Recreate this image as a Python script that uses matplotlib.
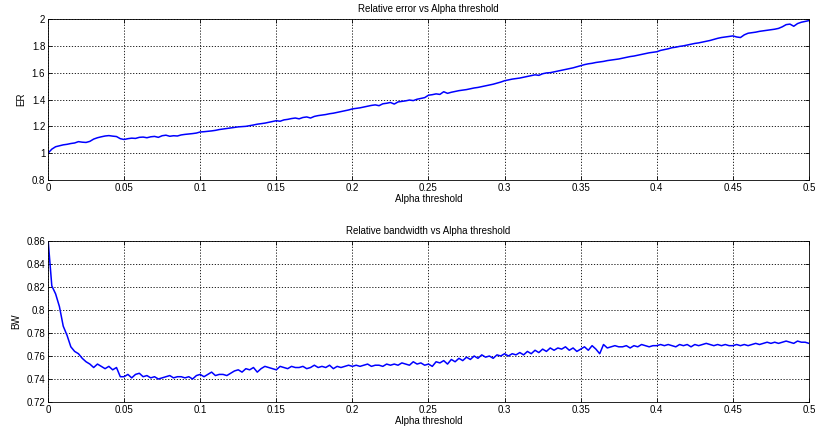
import numpy as np
import matplotlib.pyplot as plt

plt.rcParams['font.family'] = ['Liberation Sans', 'DejaVu Sans']
plt.rcParams['font.size'] = 7

# alpha threshold sweep, step 0.0025
alpha = np.arange(201) * 0.0025

er = [
    1.000, 1.030, 1.048, 1.055, 1.062, 1.066, 1.072, 1.076, 1.086, 1.082,
    1.080, 1.088, 1.105, 1.115, 1.122, 1.128, 1.131, 1.127, 1.124, 1.108,
    1.102, 1.108, 1.112, 1.110, 1.118, 1.120, 1.115, 1.122, 1.125, 1.118,
    1.130, 1.134, 1.126, 1.130, 1.128, 1.136, 1.140, 1.143, 1.146, 1.150,
    1.158, 1.160, 1.163, 1.166, 1.170, 1.176, 1.180, 1.184, 1.188, 1.192,
    1.196, 1.198, 1.200, 1.205, 1.210, 1.216, 1.220, 1.224, 1.230, 1.236,
    1.242, 1.238, 1.248, 1.252, 1.258, 1.262, 1.256, 1.266, 1.270, 1.262,
    1.274, 1.280, 1.284, 1.288, 1.294, 1.298, 1.304, 1.310, 1.316, 1.322,
    1.330, 1.334, 1.338, 1.344, 1.350, 1.356, 1.360, 1.354, 1.368, 1.372,
    1.378, 1.366, 1.382, 1.386, 1.390, 1.396, 1.392, 1.402, 1.408, 1.414,
    1.432, 1.436, 1.442, 1.438, 1.458, 1.446, 1.454, 1.460, 1.466, 1.470,
    1.474, 1.480, 1.486, 1.490, 1.496, 1.502, 1.508, 1.514, 1.522, 1.530,
    1.540, 1.546, 1.552, 1.556, 1.560, 1.566, 1.572, 1.578, 1.584, 1.580,
    1.592, 1.598, 1.600, 1.606, 1.612, 1.618, 1.624, 1.630, 1.636, 1.644,
    1.652, 1.660, 1.666, 1.670, 1.676, 1.680, 1.684, 1.690, 1.694, 1.698,
    1.702, 1.708, 1.714, 1.720, 1.724, 1.730, 1.736, 1.742, 1.748, 1.752,
    1.756, 1.766, 1.772, 1.778, 1.786, 1.790, 1.796, 1.800, 1.806, 1.812,
    1.818, 1.822, 1.828, 1.834, 1.840, 1.848, 1.856, 1.862, 1.866, 1.870,
    1.874, 1.866, 1.862, 1.882, 1.894, 1.898, 1.902, 1.908, 1.912, 1.916,
    1.920, 1.924, 1.930, 1.942, 1.958, 1.962, 1.946, 1.966, 1.976, 1.982,
    1.988,
]

bw = [
    0.862, 0.821, 0.814, 0.803, 0.786, 0.778, 0.768, 0.764, 0.762, 0.758,
    0.755, 0.753, 0.750, 0.753, 0.751, 0.749, 0.751, 0.748, 0.750, 0.742,
    0.742, 0.744, 0.741, 0.744, 0.745, 0.742, 0.743, 0.741, 0.742, 0.740,
    0.741, 0.742, 0.743, 0.741, 0.742, 0.742, 0.741, 0.742, 0.740, 0.743,
    0.744, 0.742, 0.744, 0.746, 0.743, 0.744, 0.744, 0.743, 0.745, 0.747,
    0.748, 0.746, 0.749, 0.748, 0.750, 0.746, 0.749, 0.751, 0.750, 0.749,
    0.748, 0.751, 0.750, 0.749, 0.751, 0.750, 0.750, 0.751, 0.749, 0.750,
    0.752, 0.750, 0.751, 0.750, 0.752, 0.749, 0.751, 0.750, 0.751, 0.752,
    0.751, 0.752, 0.751, 0.752, 0.753, 0.751, 0.752, 0.752, 0.751, 0.753,
    0.752, 0.753, 0.752, 0.754, 0.753, 0.752, 0.755, 0.753, 0.754, 0.752,
    0.753, 0.751, 0.755, 0.754, 0.756, 0.753, 0.757, 0.755, 0.758, 0.756,
    0.759, 0.757, 0.760, 0.758, 0.761, 0.759, 0.760, 0.758, 0.761, 0.760,
    0.762, 0.760, 0.762, 0.761, 0.763, 0.761, 0.764, 0.762, 0.765, 0.763,
    0.766, 0.764, 0.767, 0.765, 0.767, 0.766, 0.768, 0.765, 0.767, 0.764,
    0.766, 0.768, 0.765, 0.769, 0.766, 0.762, 0.770, 0.767, 0.768, 0.769,
    0.768, 0.768, 0.769, 0.767, 0.769, 0.768, 0.770, 0.769, 0.768, 0.769,
    0.769, 0.770, 0.769, 0.770, 0.769, 0.768, 0.770, 0.769, 0.770, 0.768,
    0.770, 0.769, 0.770, 0.771, 0.770, 0.769, 0.770, 0.769, 0.770, 0.769,
    0.769, 0.770, 0.769, 0.770, 0.769, 0.770, 0.771, 0.770, 0.771, 0.772,
    0.771, 0.772, 0.771, 0.772, 0.773, 0.772, 0.771, 0.773, 0.772, 0.772,
    0.771,
]

x_ticks = [0, 0.05, 0.1, 0.15, 0.2, 0.25, 0.3, 0.35, 0.4, 0.45, 0.5]
x_tick_labels = ['0', '0.05', '0.1', '0.15', '0.2', '0.25', '0.3', '0.35', '0.4', '0.45', '0.5']
er_ticks = [0.8, 1.0, 1.2, 1.4, 1.6, 1.8, 2.0]
er_tick_labels = ['0.8', '1', '1.2', '1.4', '1.6', '1.8', '2']
bw_ticks = [0.72, 0.74, 0.76, 0.78, 0.80, 0.82, 0.84, 0.86]
bw_tick_labels = ['0.72', '0.74', '0.76', '0.78', '0.8', '0.82', '0.84', '0.86']

fig = plt.figure(figsize=(8.15, 4.29), dpi=100)
ax1 = fig.add_axes([0.0589, 0.5804, 0.9337, 0.3753])
ax2 = fig.add_axes([0.0589, 0.0629, 0.9337, 0.3753])


def style(ax, yticks, ylabels, ylim):
    ax.set_xlim(0, 0.5)
    ax.set_ylim(*ylim)
    ax.set_xticks(x_ticks)
    ax.set_xticklabels(x_tick_labels)
    ax.set_yticks(yticks)
    ax.set_yticklabels(ylabels)
    ax.grid(True, color='black', linestyle=(0, (1.5, 2)), linewidth=0.6)
    ax.tick_params(direction='in', top=True, right=True, length=3,
                   width=0.6, pad=2, labelsize=7)
    for sp in ax.spines.values():
        sp.set_linewidth(0.6)
    ax.set_xlabel('Alpha threshold', labelpad=1)


ax1.plot(alpha, er, color='#0000ff', linewidth=1.1)
style(ax1, er_ticks, er_tick_labels, (0.8, 2.0))
ax1.set_ylabel('ER', labelpad=4)
ax1.set_title('Relative error vs Alpha threshold', fontsize=7, pad=5)

ax2.plot(alpha, bw, color='#0000ff', linewidth=1.1)
style(ax2, bw_ticks, bw_tick_labels, (0.72, 0.86))
ax2.set_ylabel('BW', labelpad=4)
ax2.set_title('Relative bandwidth vs Alpha threshold', fontsize=7, pad=5)

fig.savefig('out.png', dpi=100)
